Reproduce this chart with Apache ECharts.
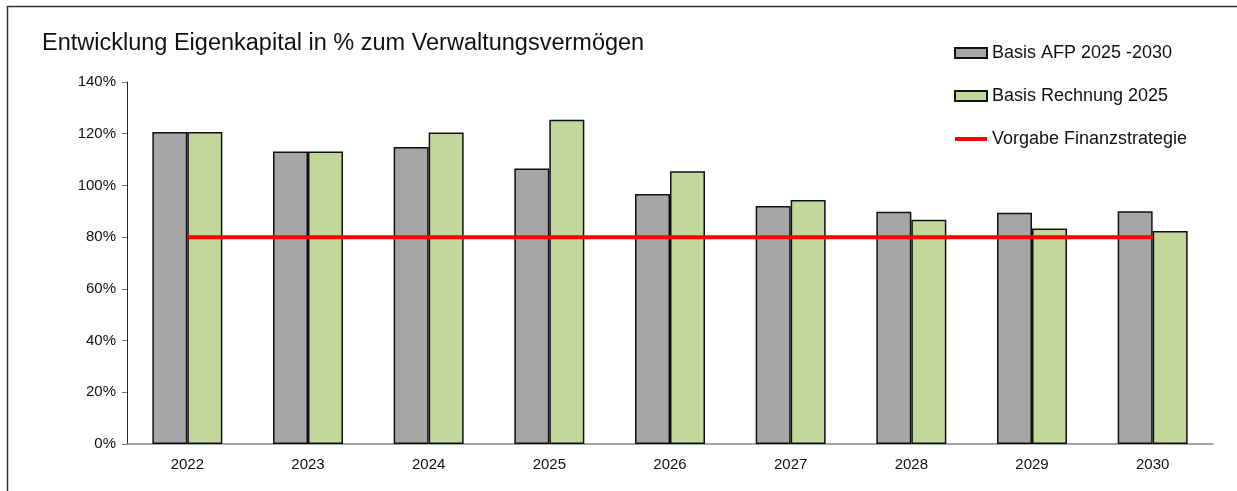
<!DOCTYPE html>
<html>
<head>
<meta charset="utf-8">
<script src="https://cdn.jsdelivr.net/npm/echarts@6/dist/echarts.min.js"></script>
<style>
  html, body { margin: 0; padding: 0; background: #fff; }
  #chart { width: 1237px; height: 491px; }
</style>
</head>
<body>
<div id="chart"></div>
<script>
// Eigenkapital in % vom Verwaltungsvermögen
var years = ['2022', '2023', '2024', '2025', '2026', '2027', '2028', '2029', '2030'];
var afp = [120.7, 113.1, 114.9, 106.5, 96.7, 92.0, 89.8, 89.4, 90.0];
var rechnung = [120.7, 113.1, 120.5, 125.4, 105.5, 94.4, 86.7, 83.3, 82.4];
var vorgabe = [80, 80, 80, 80, 80, 80, 80, 80, 80];
var seriesNames = ['Basis AFP 2025 -2030', 'Basis Rechnung 2025', 'Vorgabe Finanzstrategie'];

var chart = echarts.init(document.getElementById('chart'));

var option = {
  animation: false,
  textStyle: { fontFamily: 'Liberation Sans, Arial, sans-serif' },
  graphic: [{
    type: 'polyline',
    shape: { points: [[7.5, 500], [7.5, 6.5], [1240, 6.5]] },
    style: { stroke: '#333', lineWidth: 1.5, fill: null }
  }],
  title: {
    text: 'Entwicklung Eigenkapital in % zum Verwaltungsvermögen',
    left: 37,
    top: 27,
    textStyle: { fontSize: 23.5, fontWeight: 'normal', color: '#111' }
  },
  legend: {
    orient: 'vertical',
    left: 948,
    top: 39,
    itemWidth: 32,
    itemHeight: 10,
    itemGap: 25,
    textStyle: { fontSize: 18, color: '#111' },
    data: [
      { name: seriesNames[0], icon: 'rect' },
      { name: seriesNames[1], icon: 'rect' },
      { name: seriesNames[2], itemStyle: { opacity: 0 }, lineStyle: { width: 4, color: '#ff0000' } }
    ]
  },
  grid: { left: 127, right: 24, top: 82, bottom: 47 },
  xAxis: {
    type: 'category',
    data: years,
    axisLine: { lineStyle: { color: '#888', width: 1.5 } },
    axisTick: { show: false },
    axisLabel: { color: '#111', fontSize: 15, margin: 13 }
  },
  yAxis: {
    type: 'value',
    min: 0,
    max: 140,
    interval: 20,
    axisLine: { show: true, lineStyle: { color: '#222', width: 1 } },
    axisTick: { show: true, length: 5, lineStyle: { color: '#777' } },
    axisLabel: { color: '#111', fontSize: 15, margin: 11, formatter: '{value}%' },
    splitLine: { show: false }
  },
  series: [
    {
      name: seriesNames[0],
      type: 'bar',
      data: afp,
      barGap: '0%',
      barCategoryGap: '42%',
      itemStyle: { color: '#a6a6a6', borderColor: '#111', borderWidth: 1.5 }
    },
    {
      name: seriesNames[1],
      type: 'bar',
      data: rechnung,
      itemStyle: { color: '#c4d79b', borderColor: '#111', borderWidth: 1.5 }
    },
    {
      name: seriesNames[2],
      type: 'line',
      data: vorgabe,
      symbol: 'none',
      z: 5,
      lineStyle: { color: '#ff0000', width: 4 },
      itemStyle: { color: '#ff0000' }
    }
  ]
};

chart.setOption(option);
window.onresize = function () {
  chart.resize();
};
</script>
</body>
</html>
